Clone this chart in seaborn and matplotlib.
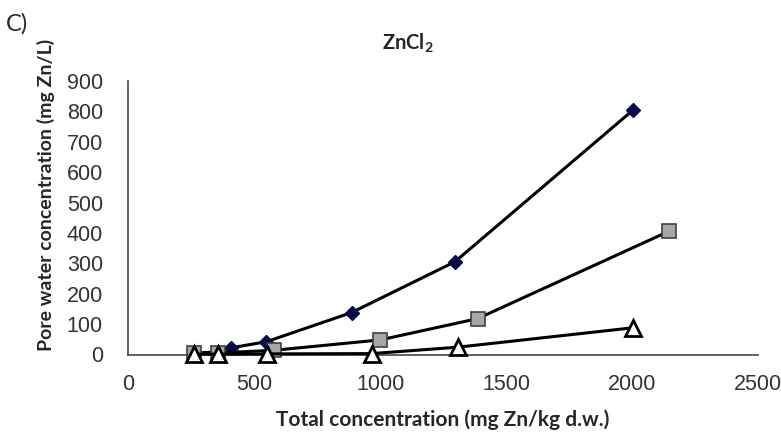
import matplotlib
matplotlib.use("Agg")
import matplotlib.pyplot as plt
import seaborn as sns
import pandas as pd

# ---- data ----
diamond_x = [262, 358, 409, 549, 887, 1297, 2005]
diamond_y = [5, 8, 22, 42, 138, 305, 805]

square_x = [262, 358, 580, 1001, 1387, 2145]
square_y = [4, 5, 14, 48, 118, 405]

triangle_x = [262, 358, 552, 968, 1308, 2005]
triangle_y = [1, 1, 2, 3, 24, 88]

x_ticks = [0, 500, 1000, 1500, 2000, 2500]
y_ticks = [0, 100, 200, 300, 400, 500, 600, 700, 800, 900]

title_text = "ZnCl$_\\mathbf{2}$"
panel_text = "C)"
x_label = "Total concentration (mg Zn/kg d.w.)"
y_label = "Pore water concentration (mg Zn/L)"

sns.set_style("white")
plt.rcParams["font.family"] = ["Liberation Sans", "DejaVu Sans"]
plt.rcParams["mathtext.fontset"] = "custom"
plt.rcParams["mathtext.bf"] = "Lato:bold"
plt.rcParams["mathtext.rm"] = "Lato"

W, H = 781, 432
fig = plt.figure(figsize=(W / 100, H / 100), dpi=100)
ax = fig.add_axes([128 / W, 1 - 354.5 / H, (758 - 128) / W, (354.5 - 81) / H])

series = [
    (diamond_x, diamond_y, "D", "#0a0a4a", "#0a0a4a", 7.5, 1.0),
    (square_x, square_y, "s", "#a6a6a6", "#404040", 10, 1.2),
    (triangle_x, triangle_y, "^", "white", "black", 11, 2.0),
]
for xs, ys, mk, fc, ec, ms, mew in series:
    df = pd.DataFrame({"x": xs, "y": ys})
    sns.lineplot(data=df, x="x", y="y", ax=ax, sort=False, color="black",
                 linewidth=2.2, marker=mk, markersize=ms,
                 markerfacecolor=fc, markeredgecolor=ec, markeredgewidth=mew,
                 clip_on=False, zorder=3)

ax.set_xlim(0, 2500)
ax.set_ylim(0, 900)
ax.set_xticks(x_ticks)
ax.set_yticks(y_ticks)
ax.tick_params(axis="both", labelsize=15.5, length=0, colors="#333333")
ax.tick_params(axis="x", pad=14)
ax.tick_params(axis="y", pad=18)
for lab in ax.get_xticklabels() + ax.get_yticklabels():
    lab.set_color("#333333")

for s in ["top", "right"]:
    ax.spines[s].set_visible(False)
for s in ["left", "bottom"]:
    ax.spines[s].set_color("#555555")
    ax.spines[s].set_linewidth(1.3)
ax.grid(False)
ax.set_xlabel("")
ax.set_ylabel("")

lab_font = ["Lato", "DejaVu Sans"]
fig.text(443 / W, 1 - 420 / H, x_label, fontsize=15, fontweight="bold",
         family=lab_font, ha="center", va="center")
fig.text(46 / W, 1 - 194.5 / H, y_label, fontsize=14, fontweight="bold",
         family=lab_font, ha="center", va="center", rotation=90)

fig.text(408 / W, 1 - 43 / H, title_text, fontsize=14.5, fontweight="bold",
         family=lab_font, ha="center", va="center")
fig.text(6 / W, 1 - 23.5 / H, panel_text, fontsize=17, family=lab_font,
         ha="left", va="center")

fig.savefig("out.png", dpi=100)
